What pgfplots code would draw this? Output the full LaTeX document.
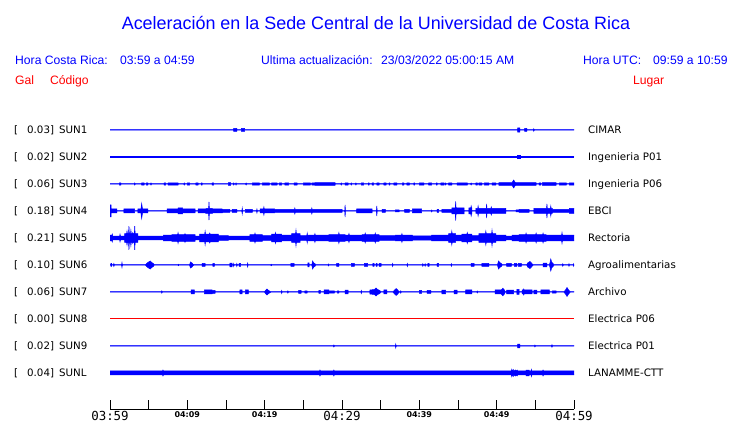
\documentclass[border=0pt]{standalone}
\usepackage{pgfplots}
\pgfplotsset{compat=1.18}
\usepackage{pgfplotstable}
\usepgfplotslibrary{fillbetween}
\usepackage{fontspec}
\setmainfont{Liberation Sans}
\newfontfamily\dejavu{DejaVu Sans}
\newfontfamily\dejamono{DejaVu Sans Mono}
\definecolor{pureblue}{RGB}{0,0,255}
\definecolor{purered}{RGB}{255,0,0}
\newcommand{\tlbig}[1]{{\fontsize{12.5}{14}\selectfont\dejamono #1}}
\newcommand{\tlsmall}[1]{{\fontsize{8}{9}\selectfont\dejavu\bfseries #1}}
% #1 table, #2 baseline, #3 name, #4 thinning of the band (px)
\newcommand{\trace}[4]{%
  \addplot[draw=pureblue, line width=0.5bp, name path=#3u] table[x index=0, y expr=#2+\thisrowno{1}-#4] {#1};
  \addplot[draw=pureblue, line width=0.5bp, name path=#3l] table[x index=0, y expr=#2-\thisrowno{1}+#4] {#1};
  \addplot[fill=pureblue, draw=none] fill between[of=#3u and #3l];
}

% time in minutes after 03:59, half-amplitude in px
\pgfplotstableread{
t h
0 0.25
16.0 0.25
16.0 1.5
16.4 1.5
16.4 0.25
17.0 0.25
17.0 1.5
17.4 1.5
17.4 0.25
52.7 0.25
52.7 2.2
53.0 2.2
53.0 0.25
53.6 0.25
53.6 1.5
53.9 1.5
53.9 0.25
54.75 0.25
54.8 1.3
54.85 0.25
60 0.25
}\sunA

\pgfplotstableread{
t h
0 0.25
52.7 0.25
52.7 1.5
53.0 1.5
53.0 0.25
60 0.25
}\sunB

\pgfplotstableread{
t h
0 0.25
1.2 0.25
1.2 1.2
1.4 1.2
1.4 0.25
3.15 0.25
3.2 1.1
3.25 0.25
4.1 0.25
4.1 1.2
4.4 1.2
4.4 0.25
4.7 0.25
4.7 1.2
4.9 1.2
4.9 0.25
5.25 0.25
5.3 1.1
5.35 0.25
7.0 0.25
7.0 1.2
7.2 1.2
7.2 0.25
7.5 0.25
7.5 1.2
8.8 1.2
8.8 0.25
9.55 0.25
9.6 1.1
9.65 0.25
10.0 0.25
10.0 1.2
10.3 1.2
10.3 0.25
11.1 0.25
11.1 1.2
11.4 1.2
11.4 0.25
11.8 0.25
11.8 1.2
11.9 1.2
11.9 0.25
13.2 0.25
13.2 1.2
13.4 1.2
13.4 0.25
15.3 0.25
15.3 1.3
15.6 1.3
15.6 0.25
15.95 0.25
16.0 1.1
16.05 0.25
16.25 0.25
16.3 1.1
16.35 0.25
17.55 0.25
17.6 1.1
17.65 0.25
18.4 0.25
18.4 1.2
19.3 1.2
19.3 0.25
19.7 0.25
19.7 1.2
20.6 1.2
20.6 0.25
20.9 0.25
20.9 1.2
21.6 1.2
21.6 0.25
21.9 0.25
21.9 1.2
22.2 1.2
22.2 0.25
22.6 0.25
22.6 1.2
23.1 1.2
23.1 0.25
23.8 0.25
23.8 1.2
24.2 1.2
24.2 0.25
25.0 0.25
25.0 1.2
25.9 1.2
25.9 0.25
26.1 0.25
26.1 1.2
26.4 1.2
26.4 0.25
26.5 0.25
26.5 1.3
29.1 1.3
29.1 0.25
29.85 0.25
29.9 1.1
29.95 0.25
30.4 0.25
30.4 1.2
30.8 1.2
30.8 0.25
31.15 0.25
31.2 1.1
31.25 0.25
31.75 0.25
31.8 1.1
31.85 0.25
32.5 0.25
32.5 1.2
32.8 1.2
32.8 0.25
33.4 0.25
33.4 1.2
33.5 1.2
33.5 0.25
33.9 0.25
33.9 1.2
34.1 1.2
34.1 0.25
34.5 0.25
34.5 1.2
34.8 1.2
34.8 0.25
35.4 0.25
35.4 1.2
35.7 1.2
35.7 0.25
36.1 0.25
36.1 1.2
36.2 1.2
36.2 0.25
36.7 0.25
36.7 1.2
37.1 1.2
37.1 0.25
37.8 0.25
37.8 1.2
38.0 1.2
38.0 0.25
38.4 0.25
38.4 1.2
38.7 1.2
38.7 0.25
39.3 0.25
39.3 1.2
39.4 1.2
39.4 0.25
40.0 0.25
40.0 1.2
40.6 1.2
40.6 0.25
41.2 0.25
41.2 1.2
41.6 1.2
41.6 0.25
42.2 0.25
42.2 1.2
42.3 1.2
42.3 0.25
42.8 0.25
42.8 1.2
43.2 1.2
43.2 0.25
43.35 0.25
43.4 1.1
43.45 0.25
43.8 0.25
43.8 1.2
44.2 1.2
44.2 0.25
44.9 0.25
44.9 1.2
46.2 1.2
46.2 0.25
46.65 0.25
46.7 1.1
46.75 0.25
47.3 0.25
47.3 1.2
47.5 1.2
47.5 0.25
47.7 0.25
47.7 1.2
48.1 1.2
48.1 0.25
48.4 0.25
48.4 1.2
49.0 1.2
49.0 0.25
49.4 0.25
49.4 1.2
49.9 1.2
49.9 0.25
50.3 0.25
50.3 1.4
52.0 1.4
52.2 4.0
52.4 1.4
55.1 1.4
55.1 0.25
55.5 0.25
55.5 1.2
55.7 1.2
55.7 0.25
55.9 0.25
55.9 1.3
57.7 1.3
57.7 0.25
58.1 0.25
58.1 1.2
59.0 1.2
59.0 0.25
59.4 0.25
59.4 1.2
60 1.2
}\sunC

\pgfplotstableread{
t h
0 6
0.15 6
0.15 2
0.9 2
0.9 0.25
1.8 0.25
1.8 2
3.2 2
3.2 0.25
3.6 0.25
3.6 2
4.0 2
4.1 7.5
4.2 2
4.9 2
4.9 0.25
7.4 0.25
7.4 2
8.8 2
8.8 3
9.4 3
9.4 2
11.0 2
11.0 0.25
11.4 0.25
11.4 2
12.3 2
12.5 2.5
12.75 2.5
12.8 9
12.85 2.5
13.2 2.5
13.3 2
14.5 2
14.6 1.5
15.5 1.5
15.5 0.25
15.8 0.25
15.8 1.5
16.4 1.5
16.4 0.25
17.05 0.25
17.1 3
17.15 0.25
17.5 0.25
17.5 1.5
18.4 1.5
18.4 0.25
18.95 0.25
19.0 2
19.05 0.25
19.4 0.25
19.4 2
19.85 2
19.9 4
19.95 2
21.3 2
21.3 1.5
23.85 1.5
23.9 3
23.95 1.5
26.05 1.5
26.1 3
26.15 1.5
30.0 1.5
30.0 0.25
30.35 0.25
30.4 6
30.45 0.25
31.9 0.25
31.9 2
33.9 2
33.9 0.25
34.45 0.25
34.5 5
34.55 0.25
35.2 0.25
35.2 1.5
35.6 1.5
35.6 0.25
36.9 0.25
36.9 1
37.4 1
37.4 0.25
38.1 0.25
38.1 1.5
38.7 1.5
38.7 0.25
39.1 0.25
39.1 2
40.3 2
40.3 0.25
41.55 0.25
41.6 1
41.65 0.25
42.3 0.25
42.3 1.5
42.5 1.5
42.5 0.25
42.9 0.25
42.9 1.5
44.2 1.5
44.2 3
44.65 3
44.7 9.5
44.75 3
45.8 3
45.8 0.25
46.4 0.25
46.4 3
46.65 3
46.7 5
46.75 3
46.8 3
46.8 0.25
47.3 0.25
47.3 2.5
47.55 2.5
47.6 5
47.65 2.5
48.65 2.5
48.7 7
48.75 2.5
49.25 2.5
49.3 4
49.35 2.5
51.2 2.5
51.2 0.25
52.5 0.25
52.5 1
52.9 1
52.9 1.5
54.2 1.5
54.2 0.25
54.8 0.25
54.8 2.5
56.45 2.5
56.5 7
56.55 2.5
56.95 2.5
57.0 5
57.05 2.5
57.2 2.5
57.2 1.5
59.4 1.5
59.4 2.5
60 2.5
}\sunD

\pgfplotstableread{
t h
0 3.5
0.25 3.5
0.3 4.5
0.35 2.5
1.25 2.5
1.3 4.5
1.35 2.5
1.9 2.5
1.9 5
2.15 5
2.2 7.5
2.25 5
2.4 5
2.45 12.5
2.5 5
2.65 5
2.7 8.5
2.75 5
2.9 5
2.95 6
3.0 5
3.15 5
3.2 12.5
3.25 5
3.6 5
3.6 2.5
6.9 2.5
6.9 3.5
8.0 3.5
8.0 4
8.75 4
8.8 6
8.85 4
9.65 4
9.7 5
9.75 4
11.0 4
11.0 2.5
11.6 2.5
11.6 4.5
12.25 4.5
12.3 7.5
12.35 4.5
12.85 4.5
12.9 5.5
12.95 4.5
14.0 4.5
14.0 3
15.3 3
15.3 2.5
18.1 2.5
18.1 4
18.7 4
18.75 5.5
18.8 4
19.7 4
19.7 3
20.9 3
20.9 4.5
21.35 4.5
21.4 6
21.45 4.5
22.2 4.5
22.2 3.5
23.5 3.5
23.5 5
24.0 5
24.05 8.5
24.1 5
24.6 5
24.6 3
25.45 3
25.5 5.5
25.55 3
25.7 3
25.7 3.5
26.45 3.5
26.5 5
26.55 3.5
28.3 3.5
28.3 4
29.55 4
29.6 6
29.65 4
30.4 4
30.4 3.5
30.85 3.5
30.9 5
30.95 3.5
32.6 3.5
32.6 4
32.95 4
33.0 5.5
33.05 4
34.25 4
34.3 5.5
34.35 4
34.8 4
34.8 3
36.9 3
36.9 3.5
37.7 3.5
37.75 5
37.8 3.5
39.1 3.5
39.1 2.8
41.6 2.8
41.6 3.5
43.8 3.5
43.8 5
44.15 5
44.2 7.5
44.25 5
44.7 5
44.7 3.5
45.5 3.5
45.5 4.5
46.15 4.5
46.2 6
46.25 4.5
46.8 4.5
46.8 3
47.7 3
47.7 5
48.55 5
48.6 7.5
48.65 5
49.35 5
49.4 8.5
49.45 5
49.9 5
49.9 3.5
51.2 3.5
51.2 2.5
52.0 2.5
52.0 3.5
52.9 3.5
52.9 4
53.75 4
53.8 5.5
53.85 4
55.05 4
55.1 5.5
55.15 4
55.95 4
56.0 5.5
56.05 4
56.4 4
56.4 3.5
58.4 3.5
58.45 6
58.5 3.5
60 3.5
}\sunE

\pgfplotstableread{
t h
0 0.25
0.1 0.25
0.1 1.5
0.2 1.5
0.2 0.25
0.45 0.25
0.5 1.5
0.55 0.25
1.5 0.25
1.55 2.5
1.6 0.25
4.6 0.25
4.8 2
5.2 4
5.4 2.5
5.6 1.5
5.7 0.25
8.8 0.25
8.85 0.8
8.9 0.25
10.3 0.25
10.4 3
10.6 2
10.8 0.25
11.9 0.25
11.9 1.5
12.3 1.5
12.3 0.25
13.3 0.25
13.3 1.5
13.5 1.5
13.5 0.25
15.5 0.25
15.5 1.8
15.8 1.8
15.8 0.25
15.95 0.25
16.0 1.5
16.05 0.25
16.35 0.25
16.4 1.5
16.45 0.25
16.7 0.25
16.7 1.5
16.9 1.5
16.9 0.25
17.75 0.25
17.8 2
17.85 0.25
20.8 0.25
20.85 0.8
20.9 0.25
23.4 0.25
23.4 1.5
23.8 1.5
23.8 0.25
25.6 0.25
25.6 2
25.75 2
25.75 0.25
26.1 0.25
26.2 4
26.35 2
26.5 1.5
26.6 0.25
28.2 0.25
28.25 1
28.3 0.25
29.3 0.25
29.3 1.5
29.6 1.5
29.6 0.25
31.2 0.25
31.2 1.5
31.6 1.5
31.6 0.25
32.9 0.25
32.9 1.5
33.3 1.5
33.3 0.25
34.0 0.25
34.0 1.5
34.15 1.5
34.15 0.25
34.4 0.25
34.4 1.5
34.55 1.5
34.55 0.25
34.8 0.25
34.8 1.5
35.05 1.5
35.05 0.25
36.5 0.25
36.55 1.5
36.6 0.25
38.4 0.25
38.45 1.5
38.5 0.25
40.4 0.25
40.45 1.3
40.5 0.25
40.7 0.25
40.75 1.3
40.8 0.25
41.1 0.25
41.1 1.5
41.25 1.5
41.25 0.25
42.3 0.25
42.3 1.5
42.5 1.5
42.5 0.25
44.1 0.25
44.15 1.3
44.2 0.25
46.7 0.25
46.7 1.5
47.1 1.5
47.1 0.25
48.1 0.25
48.1 1.5
49.0 1.5
49.0 0.25
50.1 0.25
50.25 4
50.4 2.5
50.6 1.5
50.7 0.25
51.3 0.25
51.3 1.5
51.9 1.5
51.9 0.25
52.3 0.25
52.3 1.5
52.6 1.5
52.6 0.25
52.8 0.25
52.8 1.5
53.2 1.5
53.2 0.25
53.9 0.25
54.0 2
54.3 3.5
54.5 2
54.7 0.25
56.0 0.25
56.0 1.8
56.5 1.8
56.5 0.25
56.8 0.25
56.9 2.5
57.0 6
57.1 3
57.3 1.5
57.4 0.25
58.5 0.25
58.55 1.3
58.6 0.25
59.3 0.25
59.35 1.3
59.4 0.25
59.9 0.25
59.95 1.3
60 0.25
}\sunF

\pgfplotstableread{
t h
0 0.25
6.65 0.25
6.7 1.2
6.75 0.25
10.5 0.25
10.5 2
10.9 2
10.9 0.25
12.2 0.25
12.2 2
13.2 2
13.2 1.5
13.6 1.5
13.6 0.25
16.8 0.25
16.8 2
17.1 2
17.1 0.25
17.5 0.25
17.5 2
17.9 2
17.9 0.25
20.0 0.25
20.1 1.5
20.3 3
20.5 1.5
20.8 0.25
22.15 0.25
22.2 1.5
22.25 0.25
22.95 0.25
23.0 1.2
23.05 0.25
24.4 0.25
24.4 1.5
24.7 1.5
24.7 0.25
25.2 0.25
25.2 1.2
25.5 1.2
25.5 0.25
27.0 0.25
27.0 1.5
27.2 1.5
27.2 0.25
27.7 0.25
27.7 2
28.3 2
28.3 0.25
28.4 0.25
28.4 1.2
29.0 1.2
29.0 0.25
29.4 0.25
29.4 1.2
29.6 1.2
29.6 0.25
30.4 0.25
30.4 1.8
30.8 1.8
30.8 0.25
32.45 0.25
32.5 1.5
32.55 0.25
33.6 0.25
33.6 2
34.2 2.5
34.4 4
34.6 2.5
34.9 1.5
35.0 0.25
35.4 0.25
35.4 2
35.8 2
35.8 0.25
36.6 0.25
36.8 2
37.0 3.5
37.2 2
37.4 0.25
37.55 0.25
37.6 1.2
37.65 0.25
40.0 0.25
40.0 1.5
40.3 1.5
40.3 0.25
41.0 0.25
41.0 1.5
41.5 1.5
41.5 0.25
42.9 0.25
42.9 1.8
43.4 1.8
43.4 0.25
44.5 0.25
44.5 1.8
44.9 1.8
44.9 0.25
46.0 0.25
46.0 2
46.8 2
46.8 0.25
47.45 0.25
47.5 1
47.55 0.25
49.8 0.25
49.8 2
50.6 2
50.8 3.8
51.0 2
51.1 0.25
51.3 0.25
51.3 1.8
52.2 1.8
52.2 0.25
52.6 0.25
52.6 2.5
52.9 2.5
52.9 0.25
53.3 0.25
53.3 2
53.45 2
53.5 3
53.55 2
54.6 2
54.6 0.25
54.8 0.25
54.8 1.8
55.2 1.8
55.2 0.25
55.7 0.25
55.7 2
56.8 2
56.8 0.25
57.2 0.25
57.2 1.2
57.7 1.2
57.7 0.25
58.7 0.25
58.9 2
59.1 4.5
59.3 2
59.5 0.25
60 0.25
}\sunG

\pgfplotstableread{
t y
0 104
60 104
}\sunH

\pgfplotstableread{
t h
0 0.25
28.9 0.25
28.95 1
29.0 0.25
36.9 0.25
36.95 2
37.0 0.25
52.7 0.25
52.7 1.8
53.0 1.8
53.0 0.25
54.9 0.25
54.95 1
55.0 0.25
57.1 0.25
57.15 1.3
57.2 0.25
60 0.25
}\sunI

\pgfplotstableread{
t h
0 2
6.8 2
6.85 3
6.9 2
27.1 2
27.15 3
27.2 2
28.9 2
28.95 3
29.0 2
51.9 2
51.95 3.5
52.0 2
52.15 3.5
52.2 2
52.45 3
52.5 2
52.65 3
52.7 2
53.8 2
53.8 2.8
54.2 2.8
54.2 2
54.45 2
54.5 3.5
54.55 2
55.95 2
56.0 3
56.05 2
60 2
}\sunL

\begin{document}
\begin{tikzpicture}
\begin{axis}[
  at={(110bp,14bp)}, anchor=south west,
  scale only axis, width=464bp, height=299bp,
  xmin=0, xmax=60, ymin=14, ymax=313,
  axis x line*=bottom, axis y line=none,
  xtick={0,5,...,60},
  xticklabels={{\tlbig{03:59}},{},{\tlsmall{04:09}},{},{\tlsmall{04:19}},{},{\tlbig{04:29}},{},{\tlsmall{04:39}},{},{\tlsmall{04:49}},{},{\tlbig{04:59}}},
  xtick align=inside, major tick length=9bp,
  x axis line style={black, line width=0.8bp},
  xtick style={black, line width=0.8bp},
  xticklabel style={anchor=north, inner sep=0pt, yshift=-2bp},
  clip=false,
]
\trace{\sunA}{293}{A}{0}
\trace{\sunB}{266}{B}{0}
\trace{\sunC}{239}{C}{0}
\trace{\sunD}{212}{D}{0}
\trace{\sunE}{185}{E}{0.6}
\trace{\sunF}{158}{F}{0}
\trace{\sunG}{131}{G}{0}
\addplot[draw=purered, line width=1bp] table[x=t, y=y] {\sunH};
\trace{\sunI}{77}{I}{0}
\trace{\sunL}{50}{L}{0}
\end{axis}

% header
\node[anchor=base, text=pureblue, font=\fontsize{18}{21}\selectfont] at (376bp,393bp) {Aceleración en la Sede Central de la Universidad de Costa Rica};
\begin{scope}[every node/.style={anchor=base west, text=pureblue, inner sep=0pt, font=\fontsize{12.2}{14}\selectfont}]
\node at (15bp,358bp) {Hora Costa Rica:};
\node at (120bp,358bp) {03:59 a 04:59};
\node at (261bp,358bp) {Ultima actualización:};
\node at (381bp,358bp) {23/03/2022 05:00:15 AM};
\node at (583bp,358bp) {Hora UTC:};
\node at (653bp,358bp) {09:59 a 10:59};
\node[text=purered] at (15bp,338bp) {Gal};
\node[text=purered] at (50bp,338bp) {Código};
\node[text=purered] at (633bp,338bp) {Lugar};
\end{scope}

% station labels
\begin{scope}[every node/.style={anchor=base west, inner sep=0pt, font=\dejavu\fontsize{10.3}{12}\selectfont}]
\foreach \yy/\val/\code/\place in {289/0.03/SUN1/CIMAR, 262/0.02/SUN2/Ingenieria P01, 235/0.06/SUN3/Ingenieria P06, 208/0.18/SUN4/EBCI, 181/0.21/SUN5/Rectoria, 154/0.10/SUN6/Agroalimentarias, 127/0.06/SUN7/Archivo, 100/0.00/SUN8/Electrica P06, 73/0.02/SUN9/Electrica P01, 46/0.04/SUNL/LANAMME-CTT}{
  \node at (14bp,\yy bp) {[};
  \node at (27bp,\yy bp) {\val]};
  \node at (59bp,\yy bp) {\code};
  \node at (588bp,\yy bp) {\place};
}
\end{scope}
\path (0,0) rectangle (740bp,423bp);
\end{tikzpicture}
\end{document}
